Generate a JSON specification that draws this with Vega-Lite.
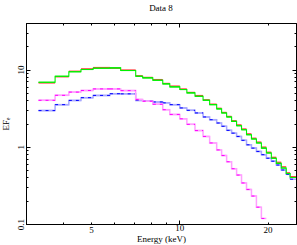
{
  "$schema": "https://vega.github.io/schema/vega-lite/v6.json",
  "width": 270,
  "height": 201,
  "autosize": {"type": "none"},
  "padding": {"left": 26, "top": 23, "right": 1, "bottom": 21},
  "background": "white",
  "title": {"text": "Data 8", "font": "Liberation Serif", "fontSize": 9, "fontWeight": "normal", "color": "black", "offset": 10},
  "config": {"view": {"stroke": "black", "strokeWidth": 1}, "font": "Liberation Serif"},
  "resolve": {"axis": {"x": "independent", "y": "independent"}},
  "datasets": {
    "bins": [
      {"e0": 3.31, "e1": 3.77, "g": 6.84, "r": 6.7, "b": 2.94, "m": 3.99},
      {"e0": 3.77, "e1": 4.20, "g": 8.18, "r": 8.05, "b": 3.51, "m": 4.63},
      {"e0": 4.20, "e1": 4.62, "g": 9.34, "r": 9.5, "b": 3.98, "m": 5.10},
      {"e0": 4.62, "e1": 5.08, "g": 10.0, "r": 10.2, "b": 4.32, "m": 5.35},
      {"e0": 5.08, "e1": 5.80, "g": 10.4, "r": 10.6, "b": 4.62, "m": 5.61},
      {"e0": 5.80, "e1": 6.31, "g": 10.5, "r": 10.4, "b": 4.86, "m": 5.61},
      {"e0": 6.31, "e1": 7.10, "g": 9.7, "r": 9.85, "b": 4.84, "m": 5.33},
      {"e0": 7.10, "e1": 7.50, "g": 8.18, "r": 8.3, "b": 3.98, "m": 4.10},
      {"e0": 7.50, "e1": 8.12, "g": 7.8, "r": 7.9, "b": 3.92, "m": 3.88},
      {"e0": 8.12, "e1": 8.78, "g": 7.26, "r": 7.4, "b": 3.80, "m": 3.55},
      {"e0": 8.78, "e1": 9.28, "g": 6.52, "r": 6.6, "b": 3.70, "m": 3.02},
      {"e0": 9.28, "e1": 10.04, "g": 5.96, "r": 6.1, "b": 3.51, "m": 2.62},
      {"e0": 10.04, "e1": 10.61, "g": 5.5, "r": 5.6, "b": 3.18, "m": 2.30},
      {"e0": 10.61, "e1": 11.31, "g": 4.98, "r": 5.05, "b": 2.96, "m": 1.95},
      {"e0": 11.31, "e1": 12.05, "g": 4.5, "r": 4.6, "b": 2.74, "m": 1.62},
      {"e0": 12.05, "e1": 12.69, "g": 4.0, "r": 4.05, "b": 2.43, "m": 1.36},
      {"e0": 12.69, "e1": 13.41, "g": 3.51, "r": 3.56, "b": 2.24, "m": 1.12},
      {"e0": 13.41, "e1": 13.94, "g": 3.09, "r": 3.15, "b": 2.03, "m": 0.91},
      {"e0": 13.94, "e1": 14.50, "g": 2.74, "r": 2.78, "b": 1.84, "m": 0.77},
      {"e0": 14.50, "e1": 15.08, "g": 2.43, "r": 2.47, "b": 1.63, "m": 0.64},
      {"e0": 15.08, "e1": 15.68, "g": 2.13, "r": 2.17, "b": 1.50, "m": 0.52},
      {"e0": 15.68, "e1": 16.30, "g": 1.87, "r": 1.92, "b": 1.36, "m": 0.43},
      {"e0": 16.30, "e1": 16.95, "g": 1.66, "r": 1.70, "b": 1.21, "m": 0.34},
      {"e0": 16.95, "e1": 17.62, "g": 1.43, "r": 1.47, "b": 1.06, "m": 0.28},
      {"e0": 17.62, "e1": 18.32, "g": 1.26, "r": 1.29, "b": 0.96, "m": 0.23},
      {"e0": 18.32, "e1": 19.05, "g": 1.12, "r": 1.15, "b": 0.87, "m": 0.165},
      {"e0": 19.05, "e1": 19.81, "g": 0.96, "r": 0.99, "b": 0.79, "m": 0.118},
      {"e0": 19.81, "e1": 20.60, "g": 0.83, "r": 0.85, "b": 0.71, "m": null},
      {"e0": 20.60, "e1": 21.42, "g": 0.71, "r": 0.73, "b": 0.65, "m": null},
      {"e0": 21.42, "e1": 22.27, "g": 0.61, "r": 0.63, "b": 0.58, "m": null},
      {"e0": 22.27, "e1": 23.15, "g": 0.53, "r": 0.55, "b": 0.50, "m": null},
      {"e0": 23.15, "e1": 23.87, "g": 0.45, "r": 0.46, "b": 0.44, "m": null},
      {"e0": 23.87, "e1": 25.0, "g": 0.40, "r": 0.41, "b": 0.38, "m": null}
    ]
  },
  "layer": [
    {
      "data": {"name": "bins"},
      "mark": {"type": "line", "interpolate": "step-after", "color": "#a8a8ff", "strokeWidth": 1.5, "clip": true},
      "encoding": {
        "x": {"field": "e0", "type": "quantitative", "scale": {"type": "log", "domain": [3, 25], "nice": false, "zero": false},
          "axis": {"orient": "bottom", "values": [3, 4, 5, 6, 7, 8, 9, 10, 20],
            "labelExpr": "datum.value == 5 || datum.value == 10 || datum.value == 20 ? '' + datum.value : ''",
            "tickSize": {"condition": {"test": "datum.value == 10", "value": -4}, "value": -2},
            "tickColor": "black", "domainColor": "black", "labelColor": "black", "labelFont": "Liberation Serif", "labelFontSize": 9,
            "labelPadding": 3, "labelFlush": false, "labelOverlap": false, "grid": false,
            "title": "Energy (keV)", "titleFont": "Liberation Serif", "titleFontSize": 9, "titleFontWeight": "normal", "titleColor": "black", "titlePadding": 0}},
        "y": {"field": "b", "type": "quantitative", "scale": {"type": "log", "domain": [0.1, 40], "nice": false, "zero": false},
          "axis": {"orient": "left", "values": [0.1, 0.2, 0.3, 0.4, 0.5, 0.6, 0.7, 0.8, 0.9, 1, 2, 3, 4, 5, 6, 7, 8, 9, 10, 20, 30],
            "labelExpr": "datum.value == 0.1 ? '0.1' : datum.value == 1 ? '1' : datum.value == 10 ? '10' : ''",
            "tickSize": {"condition": {"test": "datum.value == 0.1 || datum.value == 1 || datum.value == 10", "value": -4}, "value": -2},
            "tickColor": "black", "domainColor": "black", "labelColor": "black", "labelFont": "Liberation Serif", "labelFontSize": 9,
            "labelAngle": -90, "labelAlign": "center", "labelBaseline": "bottom", "labelPadding": 5, "labelFlush": false, "labelOverlap": false, "grid": false,
            "title": "EFₑ", "titleFont": "Liberation Serif", "titleFontSize": 9, "titleFontWeight": "normal", "titleColor": "black", "titlePadding": 4}}
      }
    },
    {
      "data": {"name": "bins"},
      "mark": {"type": "rule", "color": "#a8a8ff", "strokeWidth": 1.5, "clip": true},
      "encoding": {
        "x": {"field": "e0", "type": "quantitative", "axis": null}, "x2": {"field": "e1"},
        "y": {"field": "b", "type": "quantitative", "axis": null}
      }
    },
    {
      "data": {"name": "bins"},
      "mark": {"type": "rule", "color": "#0000ff", "strokeWidth": 1, "strokeDash": [3, 4], "clip": true},
      "encoding": {
        "x": {"field": "e0", "type": "quantitative", "axis": null}, "x2": {"field": "e1"},
        "y": {"field": "b", "type": "quantitative", "axis": null}
      }
    },
    {
      "data": {"name": "bins"},
      "mark": {"type": "line", "interpolate": "step-after", "color": "#ffa0ff", "strokeWidth": 1.5, "clip": true},
      "encoding": {
        "x": {"field": "e0", "type": "quantitative", "axis": null},
        "y": {"field": "m", "type": "quantitative", "axis": null}
      }
    },
    {
      "data": {"name": "bins"},
      "mark": {"type": "rule", "color": "#ffa0ff", "strokeWidth": 1.5, "clip": true},
      "encoding": {
        "x": {"field": "e0", "type": "quantitative", "axis": null}, "x2": {"field": "e1"},
        "y": {"field": "m", "type": "quantitative", "axis": null}
      }
    },
    {
      "data": {"name": "bins"},
      "mark": {"type": "rule", "color": "#ff00ff", "strokeWidth": 1, "strokeDash": [3, 4], "clip": true},
      "encoding": {
        "x": {"field": "e0", "type": "quantitative", "axis": null}, "x2": {"field": "e1"},
        "y": {"field": "m", "type": "quantitative", "axis": null}
      }
    },
    {
      "data": {"name": "bins"},
      "mark": {"type": "rule", "color": "#ff4040", "strokeWidth": 1.3, "clip": true},
      "encoding": {
        "x": {"field": "e0", "type": "quantitative", "axis": null}, "x2": {"field": "e1"},
        "y": {"field": "r", "type": "quantitative", "axis": null}
      }
    },
    {
      "data": {"name": "bins"},
      "mark": {"type": "line", "interpolate": "step-after", "color": "#00f000", "strokeWidth": 1.1, "clip": true},
      "encoding": {
        "x": {"field": "e0", "type": "quantitative", "axis": null},
        "y": {"field": "g", "type": "quantitative", "axis": null}
      }
    },
    {
      "data": {"name": "bins"},
      "mark": {"type": "rule", "color": "#00f000", "strokeWidth": 1.1, "clip": true},
      "encoding": {
        "x": {"field": "e0", "type": "quantitative",
          "axis": {"orient": "top", "values": [3, 4, 5, 6, 7, 8, 9, 10, 20], "labels": false, "title": null, "grid": false,
            "tickSize": {"condition": {"test": "datum.value == 10", "value": -4}, "value": -2}, "tickColor": "black", "domainColor": "black"}},
        "x2": {"field": "e1"},
        "y": {"field": "g", "type": "quantitative",
          "axis": {"orient": "right", "values": [0.1, 0.2, 0.3, 0.4, 0.5, 0.6, 0.7, 0.8, 0.9, 1, 2, 3, 4, 5, 6, 7, 8, 9, 10, 20, 30], "labels": false, "title": null, "grid": false,
            "tickSize": {"condition": {"test": "datum.value == 0.1 || datum.value == 1 || datum.value == 10", "value": -4}, "value": -2}, "tickColor": "black", "domainColor": "black"}}
      }
    }
  ]
}
